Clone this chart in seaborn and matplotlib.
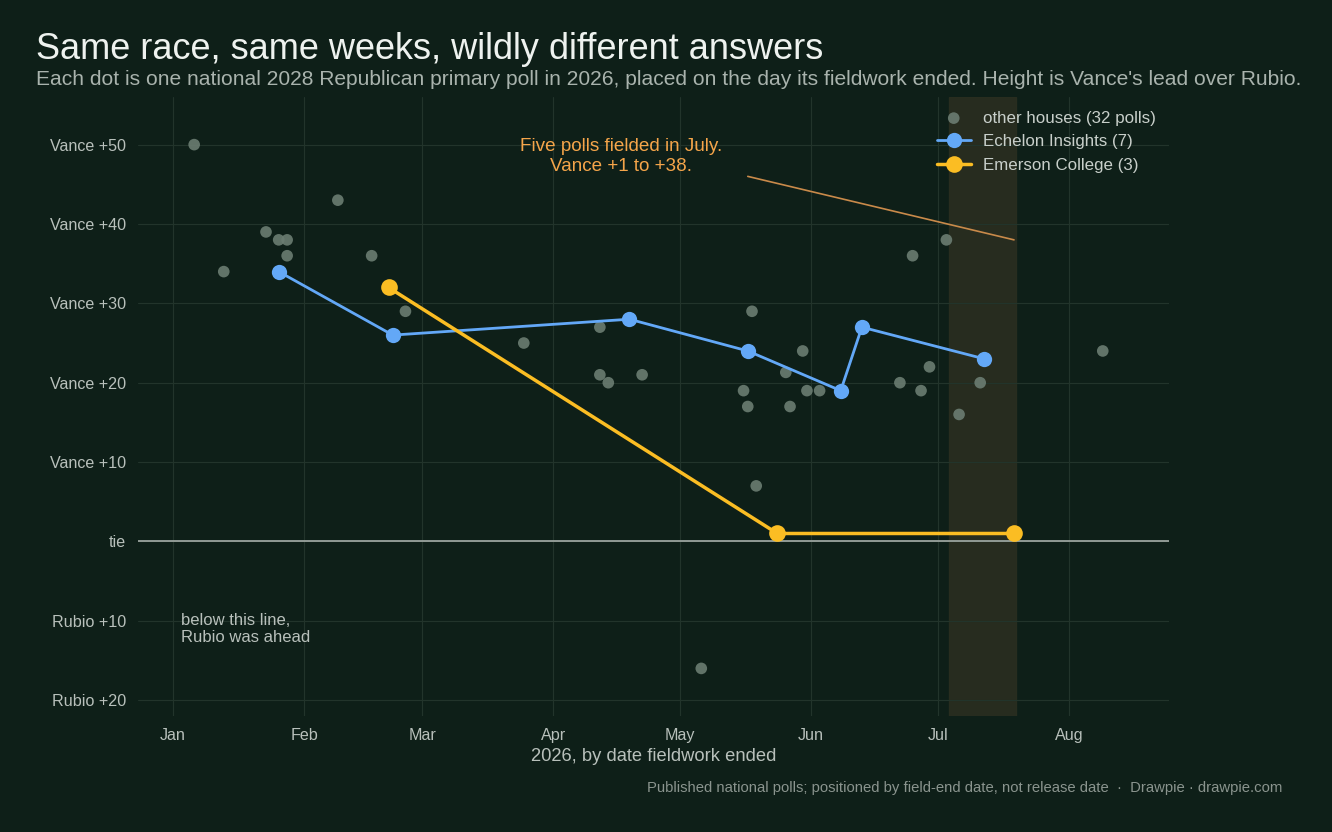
import matplotlib
matplotlib.use("Agg")
import matplotlib.pyplot as plt
import matplotlib.dates as mdates
import seaborn as sns
import pandas as pd

other_dates = ["2026-01-06","2026-01-13","2026-01-23","2026-01-26","2026-01-28","2026-01-28","2026-02-09","2026-02-17","2026-02-25","2026-03-25","2026-04-12","2026-04-12","2026-04-14","2026-04-22","2026-05-06","2026-05-16","2026-05-17","2026-05-18","2026-05-19","2026-05-26","2026-05-27","2026-05-30","2026-05-31","2026-06-03","2026-06-22","2026-06-25","2026-06-27","2026-06-29","2026-07-03","2026-07-06","2026-07-11","2026-08-09"]
other_lead = [50,34,39,38,38,36,43,36,29,25,27,21,20,21,-16,19,17,29,7,21.3,17,24,19,19,20,36,19,22,38,16,20,24]
ech_dates = ["2026-01-26","2026-02-22","2026-04-19","2026-05-17","2026-06-08","2026-06-13","2026-07-12"]
ech_lead = [34,26,28,24,19,27,23]
eme_dates = ["2026-02-21","2026-05-24","2026-07-19"]
eme_lead = [32,1,1]
yticks = [-20,-10,0,10,20,30,40,50]
ylabels = ["Rubio +20","Rubio +10","tie","Vance +10","Vance +20","Vance +30","Vance +40","Vance +50"]

BG = "#0e1f18"
sns.set_theme(style="dark")
plt.rcParams['font.family'] = ['Liberation Sans', 'DejaVu Sans']
fig = plt.figure(figsize=(13.32, 8.32), dpi=100, facecolor=BG)
ax = fig.add_axes([0.1036, 0.1394, 0.774, 0.744], facecolor=BG)

od = pd.DataFrame({"d": pd.to_datetime(other_dates), "v": other_lead})
ed = pd.DataFrame({"d": pd.to_datetime(ech_dates), "v": ech_lead})
md = pd.DataFrame({"d": pd.to_datetime(eme_dates), "v": eme_lead})

ax.axvspan(pd.Timestamp("2026-07-03 12:00"), pd.Timestamp("2026-07-19 12:00"), color="#2a2e20", alpha=0.9, zorder=0)
ax.axhline(0, color="#9aa39e", lw=1.3, zorder=1)
sns.scatterplot(data=od, x="d", y="v", ax=ax, color="#6b7d72", s=70, edgecolor="none", alpha=0.9,
                label="other houses (32 polls)", zorder=2)
sns.lineplot(data=ed, x="d", y="v", ax=ax, color="#63a8f7", lw=2, marker="o", markersize=11,
             markeredgewidth=0, label="Echelon Insights (7)", zorder=3)
sns.lineplot(data=md, x="d", y="v", ax=ax, color="#fbbd23", lw=2.5, marker="o", markersize=12,
             markeredgewidth=0, label="Emerson College (3)", zorder=4)

ax.set_xlim(pd.Timestamp("2025-12-23 17:00"), pd.Timestamp("2026-08-24 16:00"))
ax.set_ylim(-22, 56)
ax.set_yticks(yticks)
ax.set_yticklabels(ylabels)
ax.xaxis.set_major_locator(mdates.MonthLocator())
ax.xaxis.set_major_formatter(mdates.DateFormatter("%b"))
ax.grid(True, color="#22342b", lw=0.8)
for s in ax.spines.values():
    s.set_visible(False)
ax.tick_params(colors="#b8c0bb", labelsize=11.6, length=5, width=1)
ax.set_ylabel("")
ax.set_xlabel("2026, by date fieldwork ended", color="#b8c0bb", fontsize=13.2)

ax.plot([pd.Timestamp("2026-05-17"), pd.Timestamp("2026-07-19")], [46, 38], color="#c98a4a", lw=1.2, zorder=5)
ax.text(pd.Timestamp("2026-04-17"), 48.5, "Five polls fielded in July.\nVance +1 to +38.", color="#f5a54a",
        fontsize=13.6, ha="center", va="center", linespacing=1.25)
ax.text(pd.Timestamp("2026-01-03"), -11, "below this line,\nRubio was ahead", color="#b8c0bb", fontsize=12, va="center")

leg = ax.legend(loc="upper right", bbox_to_anchor=(1.0, 1.0), frameon=False, fontsize=12.2, labelcolor="#c8cfca",
                handlelength=2, handletextpad=0.7, borderaxespad=0.4)

fig.text(0.027, 0.94, "Same race, same weeks, wildly different answers", color="#eef2ef", fontsize=26, va="center")
fig.text(0.027, 0.904, "Each dot is one national 2028 Republican primary poll in 2026, placed on the day its fieldwork ended. Height is Vance's lead over Rubio.",
         color="#a9b3ad", fontsize=15.1, va="center")
fig.text(0.963, 0.053, "Published national polls; positioned by field-end date, not release date  ·  Drawpie · drawpie.com",
         color="#8a948e", fontsize=10.7, ha="right", va="center")
fig.savefig("out.png", dpi=100, facecolor=BG)
